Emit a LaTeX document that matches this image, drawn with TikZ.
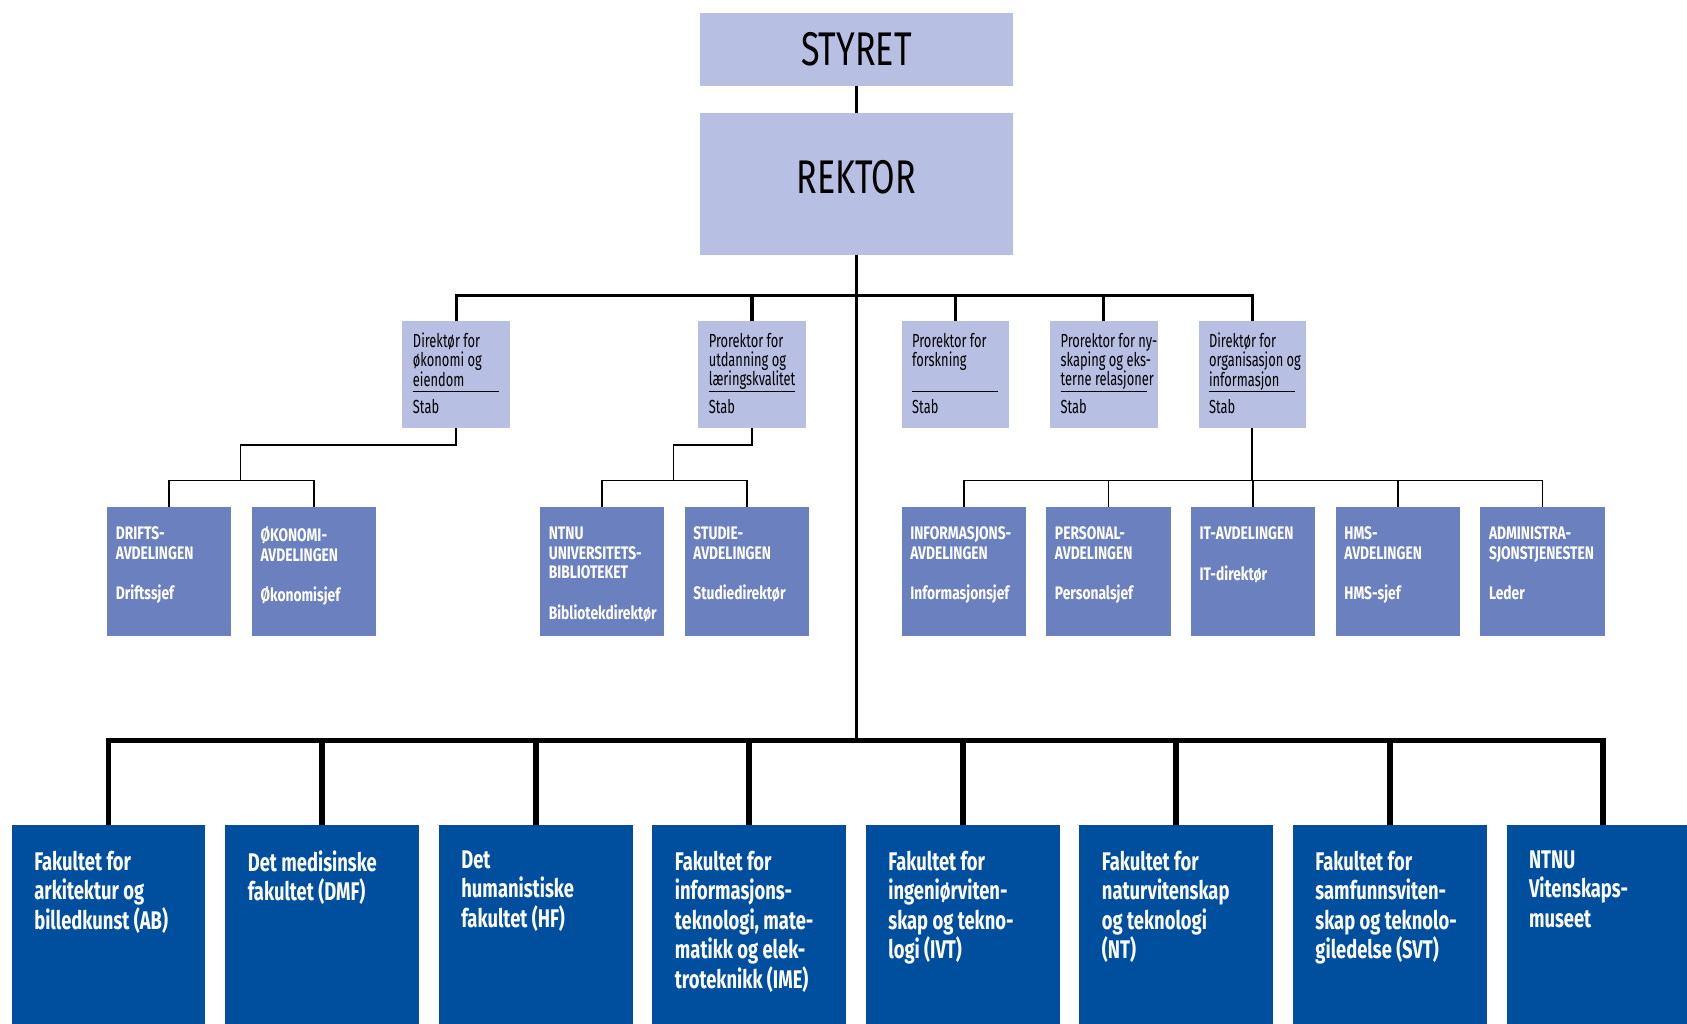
\documentclass[tikz,border=0pt]{standalone}
\usepackage{fontspec}
\setmainfont{Fira Sans}[FakeStretch=0.72]
\newfontfamily\stafffont{Fira Sans}[FakeStretch=0.68]
\newfontfamily\deptfont{Fira Sans}[FakeStretch=0.76]
\usetikzlibrary{positioning}

\definecolor{lightbox}{HTML}{B7C0E3}
\definecolor{deptbox}{HTML}{6B80BF}
\definecolor{fakbox}{HTML}{004F9F}

\begin{document}
\begin{tikzpicture}
	  [x=0.02cm, y=-0.02cm, node distance=0.38cm,
	  %
	  topblock/.style={rectangle, fill=lightbox, minimum width=5.81cm, inner sep=0pt, outer sep=0pt, font=\fontsize{25}{25}\selectfont},
	  %
	  staffblock/.style={rectangle, fill=lightbox, minimum width=2cm, minimum height=2cm, inner sep=0pt, outer sep=0pt, anchor=north west, label={[stabtext]south west:{\rule{1.6cm}{0.6pt}\\[1.1pt]Stab}}},
	  %
	  stafftext/.style={anchor=north west, align=left, inner xsep=5.4pt, inner ysep=6.3pt, font=\stafffont\fontsize{10}{10.2}\selectfont},
	  %
	  stabtext/.style={anchor=south west, align=left, inner xsep=5.4pt, inner ysep=7.4pt, font=\stafffont\fontsize{10}{10.2}\selectfont},
	  %
	  deptblock/.style={rectangle, fill=deptbox, minimum width=2.31cm, minimum height=2.39cm, inner sep=0pt, outer sep=0pt, anchor=north west},
	  %
	  depttext/.style={anchor=north west, align=left, text=white, inner xsep=4.4pt, inner ysep=10.2pt, font=\deptfont\bfseries\fontsize{9.6}{10.4}\selectfont},
	  %
	  fakblock/.style={rectangle, fill=fakbox, minimum width=3.6cm, minimum height=4cm, inner sep=0pt, outer sep=0pt, anchor=north west},
	  %
	  faktext/.style={anchor=north west, align=left, text=white, inner xsep=11.7pt, inner ysep=13.5pt, font=\bfseries\fontsize{13.5}{15.6}\selectfont},
	  %
	  thinline/.style={draw=black, line width=0.85pt},
	  busline/.style={draw=black, line width=1.7pt},
	  trunkline/.style={draw=black, line width=1.9pt},
	  fakline/.style={draw=black, line width=3pt}]

	    \useasboundingbox (0,0) rectangle (1568,951);
	    \clip (0,0) rectangle (1568,951);

	    \node [topblock, minimum height=1.36cm] (styret) at (796,45.9) {STYRET};
	    \node [topblock, minimum height=2.64cm, text depth=6.8pt, below=0.5cm of styret] (rektor) {REKTOR};

	    \node [staffblock, label={[stafftext]north west:{Direktør for\\økonomi og\\eiendom}}] (dirok) at (374,298) {};
	    \node [staffblock, label={[stafftext]north west:{Prorektor for\\utdanning og\\læringskvalitet}}] (prout) at (649,298) {};
	    \node [staffblock, label={[stafftext]north west:{Prorektor for\\forskning}}] (profo) at (838,298) {};
	    \node [staffblock, right=0.76cm of profo, label={[stafftext]north west:{Prorektor for ny-\\skaping og eks-\\terne relasjoner}}] (prony) {};
	    \node [staffblock, right=0.76cm of prony, label={[stafftext]north west:{Direktør for\\organisasjon og\\informasjon}}] (dirorg) {};

	    \node [deptblock, label={[depttext]north west:{DRIFTS-\\AVDELINGEN\\[11pt]Driftssjef}}] (drift) at (99.6,471.4) {};
	    \node [deptblock, right=of drift, label={[depttext]north west:{ØKONOMI-\\AVDELINGEN\\[11pt]Økonomisjef}}] (okon) {};
	    \node [deptblock, label={[depttext]north west:{NTNU\\UNIVERSITETS-\\BIBLIOTEKET\\[11pt]Bibliotekdirektør}}] (ubib) at (502,471.4) {};
	    \node [deptblock, right=of ubib, label={[depttext]north west:{STUDIE-\\AVDELINGEN\\[11pt]Studiedirektør}}] (studie) {};
	    \node [deptblock, label={[depttext]north west:{INFORMASJONS-\\AVDELINGEN\\[11pt]Informasjonsjef}}] (info) at (838,471.4) {};
	    \node [deptblock, right=of info, label={[depttext]north west:{PERSONAL-\\AVDELINGEN\\[11pt]Personalsjef}}] (pers) {};
	    \node [deptblock, right=of pers, label={[depttext]north west:{IT-AVDELINGEN\\[11pt]IT-direktør}}] (itavd) {};
	    \node [deptblock, right=of itavd, label={[depttext]north west:{HMS-\\AVDELINGEN\\[11pt]HMS-sjef}}] (hms) {};
	    \node [deptblock, right=of hms, label={[depttext]north west:{ADMINISTRA-\\SJONSTJENESTEN\\[11pt]Leder}}] (admin) {};

	    \node [fakblock, label={[faktext]north west:{Fakultet for\\arkitektur og\\billedkunst (AB)}}] (fab) at (11,766.7) {};
	    \node [fakblock, right=0.37cm of fab, label={[faktext]north west:{Det medisinske\\fakultet (DMF)}}] (fdmf) {};
	    \node [fakblock, right=0.37cm of fdmf, label={[faktext]north west:{Det\\humanistiske\\fakultet (HF)}}] (fhf) {};
	    \node [fakblock, right=0.37cm of fhf, label={[faktext]north west:{Fakultet for\\informasjons-\\teknologi, mate-\\matikk og elek-\\troteknikk (IME)}}] (fime) {};
	    \node [fakblock, right=0.37cm of fime, label={[faktext]north west:{Fakultet for\\ingeniørviten-\\skap og tekno-\\logi (IVT)}}] (fivt) {};
	    \node [fakblock, right=0.37cm of fivt, label={[faktext]north west:{Fakultet for\\naturvitenskap\\og teknologi\\(NT)}}] (fnt) {};
	    \node [fakblock, right=0.37cm of fnt, label={[faktext]north west:{Fakultet for\\samfunnsviten-\\skap og teknolo-\\giledelse (SVT)}}] (fsvt) {};
	    \node [fakblock, right=0.37cm of fsvt, label={[faktext]north west:{NTNU\\Vitenskaps-\\museet}}] (fvm) {};

	    \coordinate (okbus) at (223.4,446.6);
	    \coordinate (utbus) at (626,446.6);
	    \coordinate [below=0.97cm of dirorg.south] (orgbus);

	    \draw [thinline, line width=1.2pt] (styret) -- (rektor);
	    \draw [trunkline] (rektor.south) -- +(0,-9.03cm) coordinate (fakbus);
	    \draw [busline] (rektor.south) -- +(0,-0.76cm) -| (dirok.north);
	    \draw [busline] (rektor.south) -- +(0,-0.76cm) -| (prout.north);
	    \draw [busline] (rektor.south) -- +(0,-0.76cm) -| (profo.north);
	    \draw [busline] (rektor.south) -- +(0,-0.76cm) -| (prony.north);
	    \draw [busline] (rektor.south) -- +(0,-0.76cm) -| (dirorg.north);

	    \draw [thinline] (dirok.south) -- +(0,-0.31cm) -| (okbus);
	    \draw [thinline] (okbus) -| (drift.north);
	    \draw [thinline] (okbus) -| (okon.north);
	    \draw [thinline] (prout.south) -- +(0,-0.31cm) -| (utbus);
	    \draw [thinline] (utbus) -| (ubib.north);
	    \draw [thinline] (utbus) -| (studie.north);
	    \draw [thinline] (dirorg.south) -- (orgbus);
	    \draw [thinline] (orgbus) -| (info.north);
	    \draw [thinline] (orgbus) -| (pers.north);
	    \draw [thinline] (orgbus) -| (itavd.north);
	    \draw [thinline] (orgbus) -| (hms.north);
	    \draw [thinline] (orgbus) -| (admin.north);

	    \draw [fakline] (fakbus) -| (fab.north);
	    \draw [fakline] (fakbus) -| (fdmf.north);
	    \draw [fakline] (fakbus) -| (fhf.north);
	    \draw [fakline] (fakbus) -| (fime.north);
	    \draw [fakline] (fakbus) -| (fivt.north);
	    \draw [fakline] (fakbus) -| (fnt.north);
	    \draw [fakline] (fakbus) -| (fsvt.north);
	    \draw [fakline] (fakbus) -| (fvm.north);
	  \end{tikzpicture}
\end{document}
